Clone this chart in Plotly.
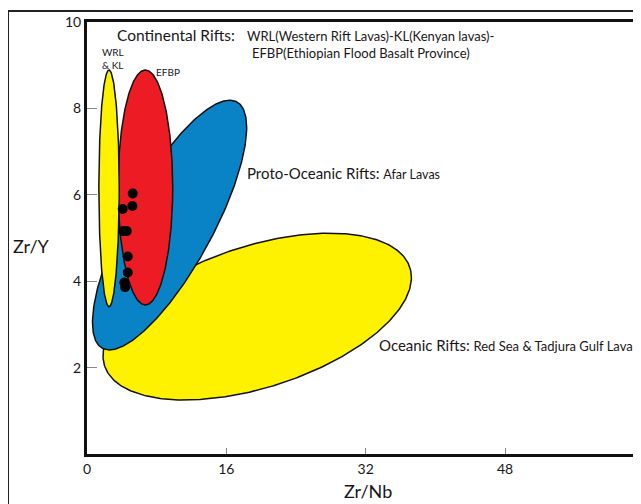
import numpy as np
import plotly.graph_objects as go

# ---- data ----
# Discrimination fields (elliptical regions): centre, bounding half-extents, tilt phase (deg)
field_names = ["Oceanic Rifts", "Proto-Oceanic Rifts", "EFBP", "WRL & KL"]
field_cx = [19.54, 9.48, 6.70, 2.53]
field_cy = [3.18, 5.30, 6.17, 6.15]
field_hx = [17.7, 8.85, 3.14, 1.17]
field_hy = [1.93, 2.89, 2.72, 2.74]
field_phase = [62.0, 38.7, 90.0, 90.0]
field_colors = ["#FFF200", "#0A83C6", "#ED1C24", "#FFF200"]

# Sample points
zr_nb = [5.25, 5.21, 4.10, 4.17, 4.56, 4.68, 4.68, 4.29, 4.37]
zr_y = [6.03, 5.74, 5.67, 5.16, 5.16, 4.57, 4.20, 3.97, 3.86]

x_ticks = [0, 16, 32, 48]
y_ticks = [2, 4, 6, 8, 10]

FONT = "Lato, 'Open Sans', sans-serif"
TXT = "#1a1718"

fig = go.Figure()

t = np.linspace(0, 2 * np.pi, 400)
for name, cx, cy, hx, hy, ph, col in zip(field_names, field_cx, field_cy, field_hx,
                                         field_hy, field_phase, field_colors):
    phi = np.deg2rad(ph)
    xs = cx + hx * np.cos(t)
    ys = cy + hy * np.cos(t - phi)
    fig.add_trace(go.Scatter(x=xs, y=ys, mode="lines", fill="toself", fillcolor=col,
                             line=dict(color="#111111", width=1.5), name=name,
                             hoverinfo="name", showlegend=False))

fig.add_trace(go.Scatter(x=zr_nb, y=zr_y, mode="markers",
                         marker=dict(color="black", size=10), showlegend=False))

annots = [
    dict(x=3.22, y=9.70, text="Continental Rifts:", size=15.5),
    dict(x=18.16, y=9.68, text="WRL(Western Rift Lavas)-KL(Kenyan lavas)-", size=13),
    dict(x=18.7, y=9.28, text="EFBP(Ethiopian Flood Basalt Province)", size=13),
    dict(x=1.45, y=9.16, text="WRL<br>& KL", size=10),
    dict(x=7.70, y=8.85, text="EFBP", size=10),
    dict(x=18.16, y=6.50,
         text="Proto-Oceanic Rifts: <span style='font-size:12.5px'>Afar Lavas</span>", size=15),
    dict(x=33.3, y=2.52,
         text="Oceanic Rifts: <span style='font-size:13px'>Red Sea &amp; Tadjura Gulf Lavas</span>",
         size=15),
]
for a in annots:
    fig.add_annotation(x=a["x"], y=a["y"], xref="x", yref="y", text=a["text"],
                       showarrow=False, xanchor="left", yanchor="middle", align="left",
                       font=dict(family=FONT, size=a["size"], color=TXT))

fig.add_annotation(x=-0.101, y=0.481, xref="paper", yref="paper", text="Zr/Y",
                   showarrow=False, xanchor="center", yanchor="middle",
                   font=dict(family=FONT, size=18, color=TXT))
fig.add_annotation(x=0.507, y=-0.085, xref="paper", yref="paper", text="Zr/Nb",
                   showarrow=False, xanchor="center", yanchor="middle",
                   font=dict(family=FONT, size=18, color=TXT))

# outer frame
fig.add_shape(type="line", xref="paper", yref="paper", x0=-0.1426, x1=-0.1426,
              y0=1.0255, y1=-0.3, line=dict(color="#222", width=2))
fig.add_shape(type="line", xref="paper", yref="paper", x0=-0.1426, x1=1.2,
              y0=1.0255, y1=1.0255, line=dict(color="#222", width=2))

fig.update_layout(
    width=633, height=496,
    margin=dict(l=79, r=0, t=14, b=50),
    paper_bgcolor="white", plot_bgcolor="white",
    font=dict(family=FONT, color=TXT),
    xaxis=dict(range=[0, 63.6], tickvals=x_ticks, ticks="inside", ticklen=6,
               tickcolor="#888", tickwidth=1, showline=True, linecolor="#111",
               linewidth=3, mirror=True, showgrid=False, zeroline=False,
               tickfont=dict(size=14, color=TXT, family=FONT)),
    yaxis=dict(range=[0, 10], tickvals=y_ticks, ticks="inside", ticklen=10,
               tickcolor="#888", tickwidth=1, showline=True, linecolor="#111",
               linewidth=3, mirror=False, showgrid=False, zeroline=False,
               tickfont=dict(size=14, color=TXT, family=FONT)),
)

fig.write_html("out.html")
